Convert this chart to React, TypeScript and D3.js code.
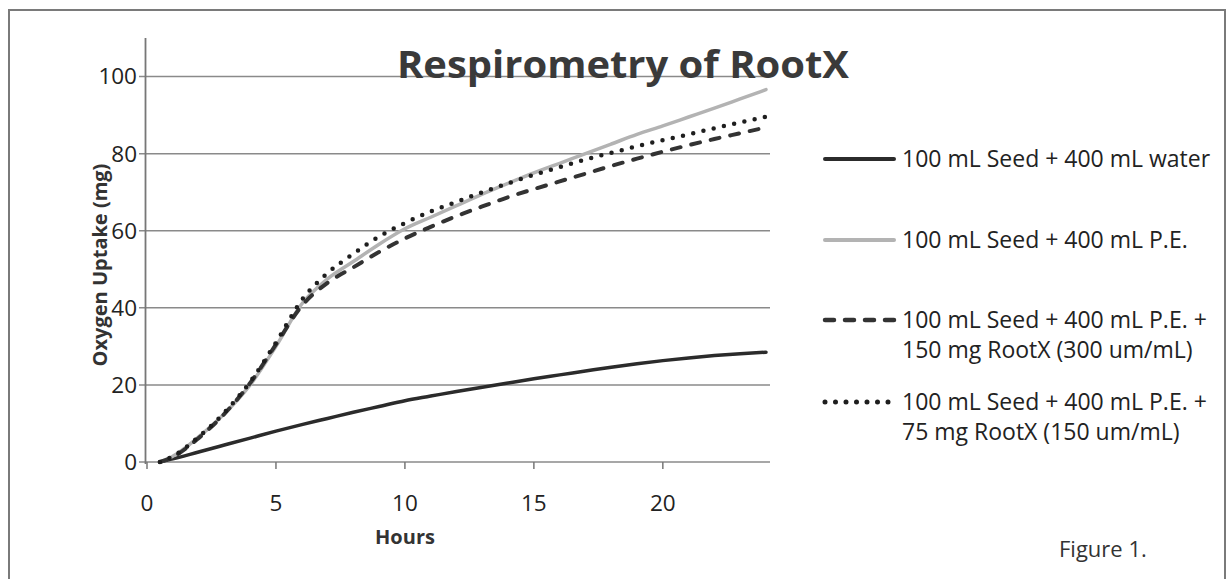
import React from "react";
import * as d3 from "d3";

// hours since start
const hours = [0.5, 1, 2, 3, 4, 5, 6, 7, 8, 9, 10, 11, 12, 13, 14, 15, 16, 17, 18, 19, 20, 21, 22, 23, 24];

const water = [0, 0.8, 2.6, 4.4, 6.2, 8.0, 9.7, 11.3, 12.9, 14.4, 15.9, 17.1, 18.3, 19.4, 20.5, 21.6, 22.6, 23.6, 24.6, 25.5, 26.3, 27.0, 27.6, 28.1, 28.5];
const pe = [0, 1.5, 6.5, 12.5, 20, 30, 41, 47.5, 52, 56.5, 60.5, 63.5, 66.5, 69.5, 72.3, 75, 77.5, 80, 82.5, 85, 87.2, 89.5, 91.8, 94.2, 96.6];
const rootx150 = [0, 1.3, 6.2, 12.5, 20.5, 30.5, 40.5, 46.5, 50.5, 54.5, 58, 61, 63.8, 66.3, 68.7, 70.8, 72.8, 74.8, 76.8, 78.7, 80.5, 82.2, 83.8, 85.3, 86.8];
const rootx75 = [0, 1.5, 6.5, 12.8, 20.8, 31, 42, 49, 54, 58.5, 62, 65, 67.5, 70, 72.3, 74.5, 76.5, 78.5, 80.2, 81.9, 83.5, 85, 86.6, 88.1, 89.6];

const yTicks = [0, 20, 40, 60, 80, 100];
const xTicks = [0, 5, 10, 15, 20];

const legendLabels = [
  ["100 mL Seed + 400 mL water"],
  ["100 mL Seed + 400 mL P.E."],
  ["100 mL Seed + 400 mL P.E. +", "150 mg RootX (300 um/mL)"],
  ["100 mL Seed + 400 mL P.E. +", "75 mg RootX (150 um/mL)"],
];

const font = "'Open Sans', 'Noto Sans', sans-serif";

const styles = [
  { stroke: "#2b2b2b", width: 3.5, dash: undefined, cap: "round" },
  { stroke: "#b3b3b3", width: 3.5, dash: undefined, cap: "round" },
  { stroke: "#333333", width: 4, dash: "9 11", cap: "round" },
  { stroke: "#1e1e1e", width: 4.5, dash: "0 10.5", cap: "round" },
];

export default function App() {
  const x = d3.scaleLinear().domain([0, 24]).range([147, 766]);
  const y = d3.scaleLinear().domain([0, 110]).range([462, 38]);

  const series = [water, pe, rootx150, rootx75];
  const line = d3
    .line<number>()
    .x((d, i) => x(hours[i]))
    .y((d) => y(d))
    .curve(d3.curveMonotoneX);

  const legendY = [159, 240, 320, 402];

  return (
    <svg
      width={1231}
      height={579}
      style={{ position: "absolute", left: 0, top: 0, background: "#fff" }}
      fontFamily={font}
    >
      <rect x={9} y={10} width={1216} height={600} fill="none" stroke="#7a7a7a" strokeWidth={2} />

      {/* gridlines */}
      {yTicks.map((t) => (
        <g key={t}>
          <line x1={139} x2={770} y1={y(t)} y2={y(t)} stroke="#8a8a8a" strokeWidth={1.5} />
          <text x={137} y={y(t)} dy="0.35em" textAnchor="end" fontSize={22.5} fill="#222">
            {t}
          </text>
        </g>
      ))}
      <line x1={x(0) - 1.5} x2={x(0) - 1.5} y1={y(110)} y2={y(0) + 2} stroke="#777" strokeWidth={1.8} />
      {xTicks.map((t) => (
        <g key={t}>
          <line x1={x(t)} x2={x(t)} y1={y(0)} y2={y(0) + 7} stroke="#777" strokeWidth={1.5} />
          <text x={x(t)} y={511} textAnchor="middle" fontSize={22.5} fill="#222">
            {t}
          </text>
        </g>
      ))}

      {series.map((s, i) => (
        <path
          key={i}
          d={line(s) || ""}
          fill="none"
          stroke={styles[i].stroke}
          strokeWidth={styles[i].width}
          strokeDasharray={styles[i].dash}
          strokeLinecap={styles[i].cap as any}
        />
      ))}

      <text
        x={623}
        y={78}
        textAnchor="middle"
        fontSize={38}
        fontWeight="bold"
        fill="#3a3a3a"
        textLength={452}
        lengthAdjust="spacingAndGlyphs"
      >
        Respirometry of RootX
      </text>

      <text
        transform={`translate(${107},${265}) rotate(-90)`}
        textAnchor="middle"
        fontSize={20}
        fontWeight="bold"
        fill="#333"
      >
        Oxygen Uptake (mg)
      </text>
      <text x={405} y={544} textAnchor="middle" fontSize={20} fontWeight="bold" fill="#333">
        Hours
      </text>

      {legendLabels.map((lab, i) => (
        <g key={i}>
          <line
            x1={825}
            x2={894}
            y1={legendY[i]}
            y2={legendY[i]}
            stroke={styles[i].stroke}
            strokeWidth={styles[i].width + 0.5}
            strokeDasharray={styles[i].dash}
            strokeLinecap={styles[i].cap as any}
          />
          {lab.map((t, j) => (
            <text key={j} x={902} y={legendY[i] + j * 30} dy="0.35em" fontSize={23} fill="#222">
              {t}
            </text>
          ))}
        </g>
      ))}

      <text x={1059} y={557} fontSize={22} fill="#333">
        Figure 1.
      </text>
    </svg>
  );
}
